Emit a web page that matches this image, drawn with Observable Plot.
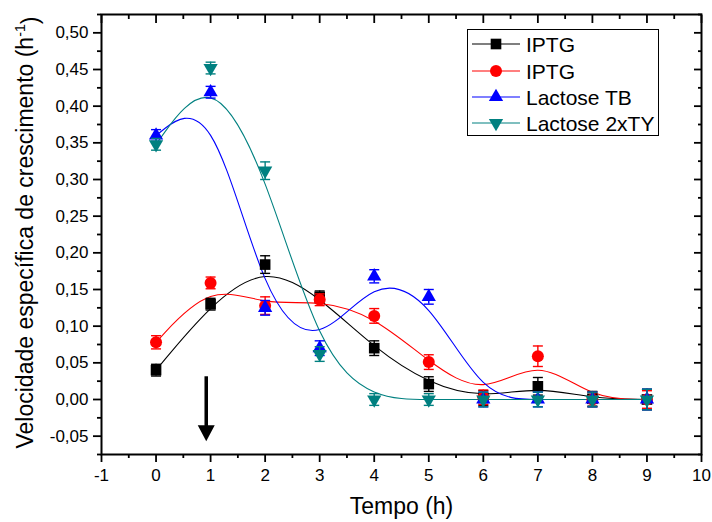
<!DOCTYPE html>
<html>
<head>
<meta charset="utf-8">
<script src="https://cdn.jsdelivr.net/npm/d3@7"></script>
<script src="https://cdn.jsdelivr.net/npm/@observablehq/plot@0.6"></script>
<style>
  html, body { margin: 0; padding: 0; background: #fff; }
  #wrap { position: relative; width: 712px; height: 522px; font-family: "Liberation Sans", Arial, sans-serif; }
  #legend { position: absolute; left: 0; top: 0; }
</style>
</head>
<body>
<div id="wrap"></div>
<script>
// ---- Data ----
const tempo = [0, 1, 2, 3, 4, 5, 6, 7, 8, 9];
const iptgA = [0.040, 0.130, 0.184, 0.140, 0.070, 0.021, 0.002, 0.018, 0.001, 0.000];
const iptgAErr = [0.008, 0.008, 0.012, 0.008, 0.010, 0.010, 0.010, 0.012, 0.010, 0.014];
const iptgB = [0.078, 0.159, 0.128, 0.136, 0.114, 0.051, 0.003, 0.059, 0.000, 0.000];
const iptgBErr = [0.009, 0.008, 0.012, 0.008, 0.010, 0.010, 0.010, 0.014, 0.010, 0.012];
const lacTB = [0.360, 0.419, 0.125, 0.070, 0.168, 0.140, 0.000, 0.000, 0.000, 0.000];
const lacTBErr = [0.008, 0.008, 0.010, 0.010, 0.009, 0.010, 0.010, 0.010, 0.010, 0.014];
const lac2x = [0.348, 0.452, 0.312, 0.062, 0.000, 0.000, 0.000, 0.000, 0.000, 0.000];
const lac2xErr = [0.008, 0.008, 0.012, 0.010, 0.008, 0.008, 0.010, 0.010, 0.010, 0.014];

const seriesNames = ["IPTG", "IPTG", "Lactose TB", "Lactose 2xTY"];
const seriesColors = ["#000000", "#ff0000", "#0000ff", "#008080"];
const seriesValues = [iptgA, iptgB, lacTB, lac2x];
const seriesErrors = [iptgAErr, iptgBErr, lacTBErr, lac2xErr];

const xMajorTicks = [-1, 0, 1, 2, 3, 4, 5, 6, 7, 8, 9, 10];
const xMinorTicks = [-0.5, 0.5, 1.5, 2.5, 3.5, 4.5, 5.5, 6.5, 7.5, 8.5, 9.5];
const yMajorTicks = [-0.05, 0, 0.05, 0.10, 0.15, 0.20, 0.25, 0.30, 0.35, 0.40, 0.45, 0.50];
const yMinorTicks = [-0.075, -0.025, 0.025, 0.075, 0.125, 0.175, 0.225, 0.275, 0.325, 0.375, 0.425, 0.475, 0.525];

const xLabel = "Tempo (h)";
const yLabel = "Velocidade específica de crescimento (h";

// induction arrow
const arrowX = [0.92];
const arrowTop = [0.031];
const arrowTip = [-0.057];

// ---- Build table ----
const rows = [];
seriesValues.forEach((vals, s) => {
  vals.forEach((v, i) => rows.push({s, x: tempo[i], y: v, lo: v - seriesErrors[s][i], hi: v + seriesErrors[s][i]}));
});
const arrowRows = arrowX.map((x, i) => ({x, top: arrowTop[i], tip: arrowTip[i]}));

const capSymbol = {draw(ctx, size) { const w = Math.sqrt(size / Math.PI); ctx.moveTo(-w, 0); ctx.lineTo(w, 0); }};
const headSymbol = {draw(ctx, size) { ctx.moveTo(0, 0); ctx.lineTo(-8.5, -16); ctx.lineTo(8.5, -16); ctx.closePath(); }};
const symbols = ["square", "circle", "triangle", "triangle"];
const radii = [6, 6, 5.3, 5.3];
const rotations = [0, 0, 0, 180];

const fmtY = d => d3.format(".2f")(d).replace("−", "-").replace(".", ",");
const font = "'Liberation Sans', Arial, sans-serif";

const marks = [
  ...seriesValues.map((_, s) => Plot.line(rows.filter(r => r.s === s), {x: "x", y: "y", curve: "basis", stroke: seriesColors[s], strokeWidth: 1.1})),
];
seriesValues.forEach((_, s) => {
  const d = rows.filter(r => r.s === s);
  marks.push(Plot.ruleX(d, {x: "x", y1: "lo", y2: "hi", stroke: seriesColors[s], strokeWidth: 1.4}));
  marks.push(Plot.dot(d, {x: "x", y: "lo", symbol: capSymbol, r: 5, stroke: seriesColors[s], strokeWidth: 1.4, fill: "none"}));
  marks.push(Plot.dot(d, {x: "x", y: "hi", symbol: capSymbol, r: 5, stroke: seriesColors[s], strokeWidth: 1.4, fill: "none"}));
  marks.push(Plot.dot(d, {x: "x", y: "y", symbol: symbols[s], r: radii[s], rotate: rotations[s], fill: seriesColors[s], stroke: "none"}));
});
marks.push(
  Plot.ruleX(arrowRows, {x: "x", y1: "top", y2: d => d.tip + 0.012, stroke: "#000", strokeWidth: 3.5}),
  Plot.dot(arrowRows, {x: "x", y: "tip", symbol: headSymbol, r: 5, fill: "#000", stroke: "none"}),
  Plot.frame({stroke: "#000", strokeWidth: 2}),
  Plot.axisY(yMajorTicks, {anchor: "left", tickSize: 8, tickPadding: 5, strokeWidth: 1.8, tickFormat: fmtY, fontSize: 17, label: null}),
  Plot.axisY(yMinorTicks, {anchor: "left", tickSize: 4, strokeWidth: 1.8, tickFormat: () => "", label: null}),
  Plot.axisY(yMajorTicks, {anchor: "right", tickSize: 8, dx: -8, strokeWidth: 1.8, tickFormat: () => "", label: null}),
  Plot.axisY(yMinorTicks, {anchor: "right", tickSize: 4, dx: -4, strokeWidth: 1.8, tickFormat: () => "", label: null}),
  Plot.axisX(xMajorTicks, {anchor: "bottom", tickSize: 8, tickPadding: 6, strokeWidth: 1.8, tickFormat: d => String(d), fontSize: 17, label: null}),
  Plot.axisX(xMinorTicks, {anchor: "bottom", tickSize: 4, strokeWidth: 1.8, tickFormat: () => "", label: null}),
  Plot.axisX(xMajorTicks, {anchor: "top", tickSize: 8, dy: 8, strokeWidth: 1.8, tickFormat: () => "", label: null}),
  Plot.axisX(xMinorTicks, {anchor: "top", tickSize: 4, dy: 4, strokeWidth: 1.8, tickFormat: () => "", label: null}),
  Plot.text([xLabel], {frameAnchor: "bottom", dy: 59, fontSize: 23, fill: "#000"}),
  Plot.text([yLabel], {frameAnchor: "left", rotate: -90, dx: -76, dy: -2, fontSize: 23, fill: "#000", textAnchor: "middle"})
);

const chart = Plot.plot({
  width: 712,
  height: 522,
  marginLeft: 101,
  marginRight: 11,
  marginTop: 14,
  marginBottom: 68,
  style: {fontFamily: font, background: "#fff", color: "#000"},
  x: {domain: [-1, 10]},
  y: {domain: [-0.075, 0.525]},
  marks
});
document.getElementById("wrap").appendChild(chart);

// superscript in y label
d3.select(chart).selectAll("text").each(function() {
  if (this.textContent === yLabel) {
    const t = d3.select(this);
    t.append("tspan").attr("dy", "-0.55em").attr("font-size", "0.62em").text("-1");
    t.append("tspan").attr("dy", "0.55em").text(")");
  }
});

// legend overlay
const lg = d3.select("#wrap").append("svg").attr("id", "legend").attr("width", 712).attr("height", 522)
  .style("font-family", font);
lg.append("rect").attr("x", 467.5).attr("y", 29.5).attr("width", 191).attr("height", 106)
  .attr("fill", "#fff").attr("stroke", "#000").attr("stroke-width", 1);
const rowY = [44, 71, 97, 123];
seriesNames.forEach((name, s) => {
  const g = lg.append("g").attr("transform", `translate(0,${rowY[s]})`);
  g.append("line").attr("x1", 472).attr("x2", 520).attr("y1", 0).attr("y2", 0)
    .attr("stroke", seriesColors[s]).attr("stroke-width", 1.2);
  const sym = s === 0 ? d3.symbolSquare : s === 1 ? d3.symbolCircle : d3.symbolTriangle;
  g.append("path").attr("d", d3.symbol(sym, radii[s] * radii[s] * Math.PI)())
    .attr("transform", `translate(496,0) rotate(${rotations[s]})`).attr("fill", seriesColors[s]);
  g.append("text").attr("x", 526).attr("y", 0).attr("dy", "0.36em").attr("font-size", 21).attr("fill", "#000").text(name);
});
</script>
</body>
</html>
